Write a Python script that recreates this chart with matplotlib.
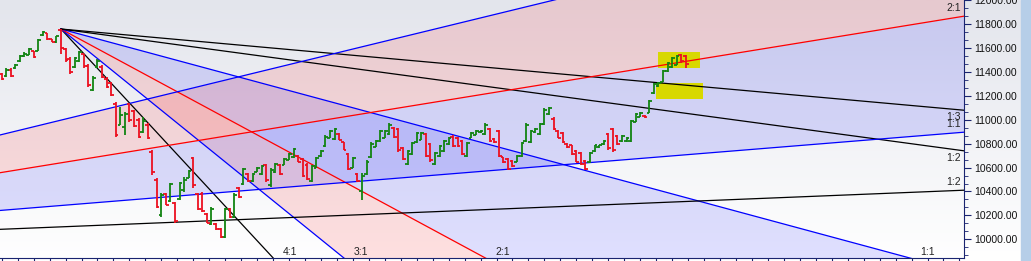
import numpy as np
import matplotlib
matplotlib.use("Agg")
import matplotlib.pyplot as plt
from matplotlib.colors import LinearSegmentedColormap
from matplotlib.patches import Rectangle
from matplotlib.ticker import MultipleLocator, AutoMinorLocator, FormatStrFormatter

plt.rcParams['font.family'] = ['Liberation Sans', 'DejaVu Sans']

# daily OHLC bars
highs = [11390, 11430, 11430, 11465, 11540, 11565, 11600, 11580, 11680, 11740,
         11730, 11680, 11705, 11760, 11605, 11525, 11525, 11580, 11555, 11465,
         11365, 11505, 11455, 11355, 11315, 11145, 11105, 11065, 11140, 11080,
         11015, 11020, 10970, 10745, 10510, 10385, 10385, 10470, 10310, 10480,
         10520, 10580, 10690, 10385, 10395, 10220, 10270, 10135, 10095, 10260,
         10260, 10385, 10435, 10595, 10555, 10555, 10605, 10620, 10630, 10595,
         10635, 10630, 10680, 10720, 10765, 10705, 10680, 10635, 10620, 10690,
         10745, 10870, 10915, 10930, 10890, 10815, 10720, 10690, 10555, 10555,
         10660, 10815, 10830, 10915, 10915, 10970, 10940, 10930, 10770,
         10745, 10815, 10895, 10895, 10890, 10805, 10730, 10790, 10830,
         10855, 10870, 10855, 10830, 10815, 10895, 10915, 10915,
         10970, 10930, 10845, 10915, 10690, 10680, 10660, 10705, 10815,
         10970, 10915, 10930, 10970, 11095, 11105, 11020, 10915, 10895,
         10805, 10790, 10745, 10730, 10660, 10730, 10790, 10790, 10830, 10890,
         10930, 10870, 10870, 10855, 11000, 11055, 11065, 11040, 11165, 11305,
         11315, 11415, 11480, 11525, 11540, 11555, 11540]
lows = [11331, 11355, 11355, 11425, 11480, 11525, 11540, 11515, 11575, 11705,
        11665, 11650, 11640, 11555, 11480, 11380, 11430, 11480, 11430, 11275,
        11240, 11430, 11350, 11265, 11200, 10855, 10955, 10870, 10980, 10940,
        10845, 10890, 10840, 10535, 10260, 10185, 10285, 10310, 10135, 10330,
        10395, 10510, 10430, 10245, 10225, 10135, 10120, 10075, 10010, 10010,
        10175, 10175, 10345, 10455, 10480, 10480, 10560, 10535, 10480, 10435,
        10555, 10535, 10620, 10660, 10680, 10645, 10520, 10495, 10480, 10595,
        10690, 10770, 10845, 10830, 10830, 10745, 10580, 10595, 10480, 10330,
        10535, 10680, 10770, 10815, 10845, 10870, 10845, 10730, 10660,
        10620, 10705, 10805, 10830, 10690, 10645, 10620, 10690, 10730,
        10790, 10770, 10770, 10705, 10690, 10845, 10870, 10890,
        10870, 10815, 10805, 10690, 10640, 10580, 10605, 10645, 10690,
        10815, 10805, 10890, 10870, 10955, 11040, 10915, 10845, 10805,
        10765, 10705, 10645, 10620, 10580, 10640, 10730, 10765, 10790, 10745,
        10730, 10790, 10815, 10815, 10815, 10980, 11020, 11015, 11055, 11220,
        11275, 11315, 11400, 11430, 11455, 11475, 11430]
opens = [11380, 11365, 11420, 11430, 11490, 11530, 11545, 11575, 11580, 11710,
         11725, 11675, 11650, 11750, 11595, 11510, 11440, 11490, 11550, 11450,
         11250, 11440, 11445, 11345, 11305, 11130, 10960, 10940, 11130, 11070,
         11000, 10900, 10960, 10730, 10500, 10200, 10380, 10320, 10300, 10340,
         10410, 10515, 10680, 10375, 10380, 10210, 10130, 10130, 10085, 10020,
         10250, 10190, 10425, 10465, 10550, 10490, 10565, 10545, 10620, 10450,
         10560, 10620, 10625, 10665, 10690, 10700, 10670, 10625, 10490, 10600,
         10695, 10780, 10850, 10840, 10885, 10810, 10710, 10600, 10550, 10400,
         10545, 10690, 10775, 10820, 10850, 10880, 10935, 10920, 10760,
         10630, 10710, 10810, 10835, 10880, 10795, 10630, 10700, 10740,
         10795, 10860, 10850, 10820, 10700, 10850, 10875, 10895,
         10880, 10920, 10840, 10905, 10685, 10670, 10655, 10650, 10700,
         10825, 10815, 10895, 10880, 10965, 11045, 11010, 10910, 10890,
         10800, 10785, 10740, 10720, 10655, 10645, 10735, 10770, 10795, 10880,
         10920, 10865, 10820, 10820, 10825, 10985, 11025, 11035, 11060, 11225,
         11280, 11320, 11405, 11440, 11460, 11540, 11530]
closes = [11345, 11420, 11370, 11460, 11530, 11555, 11590, 11525, 11670, 11735,
          11680, 11655, 11700, 11600, 11500, 11400, 11515, 11570, 11450, 11290,
          11350, 11495, 11360, 11275, 11210, 10870, 11040, 11050, 11000, 10950,
          10860, 10990, 10845, 10560, 10270, 10370, 10290, 10460, 10150, 10470,
          10500, 10570, 10450, 10255, 10240, 10140, 10255, 10085, 10020, 10250,
          10185, 10370, 10355, 10585, 10490, 10545, 10600, 10610, 10495, 10580,
          10630, 10545, 10675, 10715, 10755, 10650, 10530, 10505, 10610, 10680,
          10740, 10860, 10905, 10920, 10835, 10750, 10590, 10680, 10490, 10530,
          10650, 10800, 10825, 10905, 10910, 10960, 10855, 10745, 10670,
          10735, 10805, 10890, 10890, 10700, 10660, 10720, 10780, 10820,
          10850, 10780, 10780, 10715, 10805, 10890, 10910, 10910,
          10960, 10825, 10810, 10700, 10645, 10590, 10610, 10700, 10805,
          10960, 10905, 10925, 10965, 11085, 11100, 10925, 10850, 10810,
          10770, 10710, 10650, 10630, 10590, 10720, 10785, 10785, 10825, 10760,
          10745, 10800, 10865, 10850, 10990, 11050, 11060, 11020, 11155, 11300,
          11310, 11405, 11475, 11515, 11535, 11490, 11470]

# gann fan down from the swing high (bar index, price, points per bar of the 1x1)
high_bar = 13
high_price = 11760
high_unit = 10.3
high_ratios = [4, 3, 2, 1, 1 / 2, 1 / 3]
high_names = ["4:1", "3:1", "2:1", "1:1", "1:2", "1:3"]
high_colors = ["black", "blue", "red", "blue", "black", "black"]
high_fills = [None, "red", "blue", None, None]

# gann fan up from an earlier low, left of the visible window
low_bar = -102.3
low_price = 9925
low_unit = 3.1
low_ratios = [3, 2, 1, 1 / 2]
low_names = ["3:1", "2:1", "1:1", "1:2"]
low_colors = ["blue", "red", "blue", "black"]
low_fills = ["red", "blue", None]

# highlighted boxes (bar from, bar to, price low, price high)
boxes = [(143.9, 153.2, 11431, 11568), (143.5, 153.8, 11178, 11309)]

xlo, xhi = -0.37, 211.0
ylo, yhi = 9843, 12003

fig = plt.figure(figsize=(10.31, 2.61), dpi=100)
bg = fig.add_axes([0, 0, 1, 1], zorder=-2)
cmap = LinearSegmentedColormap.from_list("bg", ["#e3e5ec", "#ffffff"])
bg.imshow(np.linspace(0, 1, 256).reshape(-1, 1), aspect="auto", cmap=cmap, extent=(0, 1, 0, 1))
bg.add_patch(Rectangle((1021 / 1031, 0), 10 / 1031, 1, color="#b6cee8"))
bg.set_xlim(0, 1)
bg.set_ylim(0, 1)
bg.axis("off")

ax = fig.add_axes([0, 3 / 261, 964 / 1031, 258 / 261])
ax.patch.set_alpha(0)

x_end = 500
for k, fc in enumerate(high_fills):
    if fc is None:
        continue
    a, b = high_ratios[k], high_ratios[k + 1]
    ax.fill([high_bar, x_end, x_end],
            [high_price, high_price - a * high_unit * (x_end - high_bar), high_price - b * high_unit * (x_end - high_bar)],
            color=fc, alpha=0.12, lw=0, zorder=1)
for k, fc in enumerate(low_fills):
    if fc is None:
        continue
    a, b = low_ratios[k], low_ratios[k + 1]
    ax.fill([low_bar, x_end, x_end],
            [low_price, low_price + a * low_unit * (x_end - low_bar), low_price + b * low_unit * (x_end - low_bar)],
            color=fc, alpha=0.12, lw=0, zorder=1)

for x0, x1, p0, p1 in boxes:
    ax.add_patch(Rectangle((x0, p0), x1 - x0, p1 - p0, color="#d8d800", lw=0, zorder=2))

lab = dict(fontsize=7.5, color="#222222", textcoords="offset pixels")
for ratio, name, color in zip(high_ratios, high_names, high_colors):
    m = -ratio * high_unit
    ax.plot([high_bar, x_end], [high_price, high_price + m * (x_end - high_bar)], color=color, lw=0.9, zorder=3)
    pr = high_price + m * (xhi - high_bar)
    if pr >= ylo:
        ax.annotate(name, (xhi, pr), xytext=(-3, -2), ha="right", va="top", **lab)
    else:
        xb = high_bar + (ylo - high_price) / m
        ax.annotate(name, (xb, ylo), xytext=(10, 1), ha="left", va="bottom", **lab)
for ratio, name, color in zip(low_ratios, low_names, low_colors):
    m = ratio * low_unit
    ax.plot([low_bar, x_end], [low_price, low_price + m * (x_end - low_bar)], color=color, lw=0.9, zorder=3)
    pr = low_price + m * (xhi - low_bar)
    if pr <= yhi:
        ax.annotate(name, (xhi, pr), xytext=(-3, 3), ha="right", va="bottom", **lab)

idx = np.arange(len(highs))
o = np.array(opens)
c = np.array(closes)
cols = np.where(c >= o, "#128412", "#ec1020")
ax.vlines(idx, lows, highs, colors=cols, lw=1.3, zorder=4)
ax.hlines(o, idx - 0.6, idx, colors=cols, lw=1.3, zorder=4)
ax.hlines(c, idx, idx + 0.6, colors=cols, lw=1.3, zorder=4)

ax.set_xlim(xlo, xhi)
ax.set_ylim(ylo, yhi)
for s in ["left", "top"]:
    ax.spines[s].set_visible(False)
for s in ["right", "bottom"]:
    ax.spines[s].set_color("#1a2470")
ax.yaxis.tick_right()
ax.yaxis.set_major_locator(MultipleLocator(200))
ax.yaxis.set_minor_locator(AutoMinorLocator(3))
ax.yaxis.set_major_formatter(FormatStrFormatter("%.2f"))
ax.xaxis.set_major_locator(MultipleLocator(3.5))
ax.tick_params(axis="y", which="major", length=5, color="#1a2470", labelsize=7.5, labelcolor="#111111", pad=2)
ax.tick_params(axis="y", which="minor", length=3, color="#1a2470")
ax.tick_params(axis="x", length=3, color="#1a2470", labelbottom=False)

fig.savefig("out.png", dpi=100)
